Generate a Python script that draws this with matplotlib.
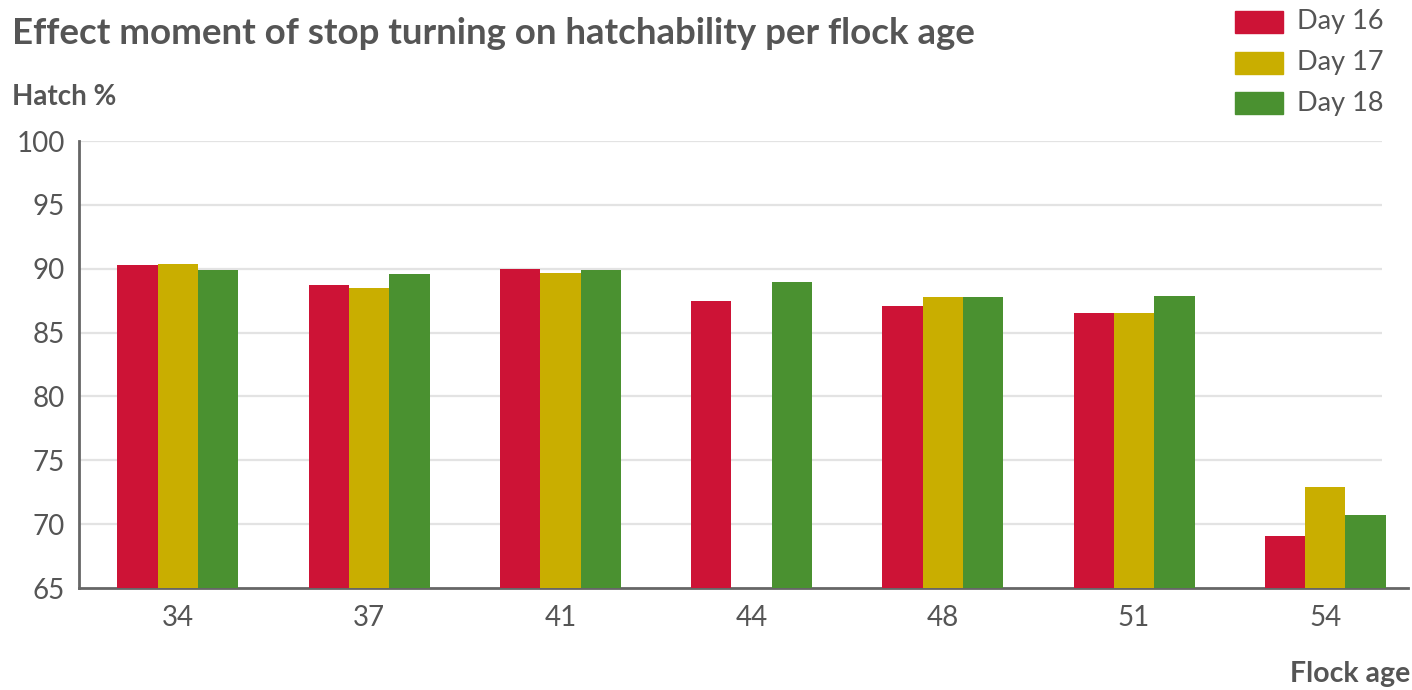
import matplotlib.pyplot as plt
import numpy as np

plt.rcParams['font.family'] = ['Lato', 'DejaVu Sans']

# hatch % per flock age, by day turning was stopped
flock_age = ['34', '37', '41', '44', '48', '51', '54']
day16 = [90.3, 88.7, 90.0, 87.5, 87.1, 86.5, 69.1]
day17 = [90.4, 88.5, 89.7, np.nan, 87.8, 86.5, 72.9]
day18 = [89.9, 89.6, 89.9, 89.0, 87.8, 87.9, 70.7]
series = ['Day 16', 'Day 17', 'Day 18']
colors = ['#CD1336', '#C9AE00', '#4A9130']
yticks = [65, 70, 75, 80, 85, 90, 95, 100]

txt = '#555555'

fig = plt.figure(figsize=(14.12, 6.9), dpi=100)
ax = fig.add_axes([0.0559, 0.1478, 0.9413, 0.6478])

x = np.arange(len(flock_age))
w = 0.211
for i, (vals, c) in enumerate(zip([day16, day17, day18], colors)):
    ax.bar(x + (i - 1) * w, np.array(vals) - 65, bottom=65, width=w,
           color=c, linewidth=0, zorder=3)

ax.set_xlim(-0.518, 6.433)
ax.set_ylim(65, 100)

# light horizontal gridlines, stopping short of the right end
for t in yticks[1:]:
    ax.hlines(t, -0.518, 6.297, color='#E3E3E3', linewidth=1.6, zorder=1)

ax.set_yticks(yticks)
ax.set_xticks(x)
ax.set_xticklabels(flock_age)
ax.tick_params(axis='both', length=0, labelsize=20, colors=txt)
ax.tick_params(axis='x', pad=12)
ax.tick_params(axis='y', pad=10)

for s in ['top', 'right']:
    ax.spines[s].set_visible(False)
for s in ['left', 'bottom']:
    ax.spines[s].set_color('#666666')
    ax.spines[s].set_linewidth(2)

fig.text(12 / 1412, 1 - 33 / 690, 'Effect moment of stop turning on hatchability per flock age',
         fontsize=26.4, fontweight='bold', color=txt, va='center', ha='left')
fig.text(12 / 1412, 1 - 97 / 690, 'Hatch %', fontsize=20, fontweight='bold',
         color=txt, va='center', ha='left')
fig.text(1410 / 1412, 1 - 674 / 690, 'Flock age', fontsize=20.5, fontweight='bold',
         color=txt, va='center', ha='right')

# legend drawn as coloured blocks with labels
for i, (name, c) in enumerate(zip(series, colors)):
    yc = 1 - (22 + i * 40.5) / 690
    fig.patches.append(plt.Rectangle((1235 / 1412, yc - 11 / 690), 48 / 1412, 22 / 690,
                                     transform=fig.transFigure, color=c))
    fig.text(1297 / 1412, yc, name, fontsize=19.5, color=txt, va='center', ha='left')

fig.savefig('out.png', dpi=100)
